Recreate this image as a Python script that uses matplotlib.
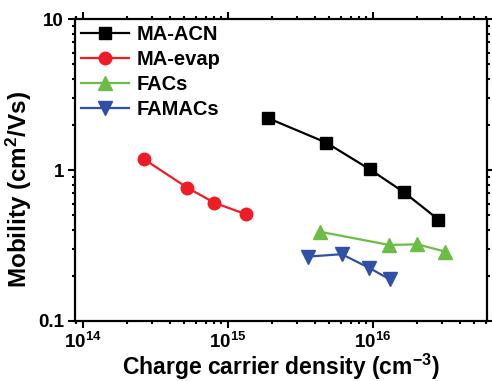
import math
import matplotlib
matplotlib.use("Agg")
import matplotlib.pyplot as plt
from matplotlib.ticker import LogLocator, FuncFormatter, NullFormatter

plt.rcParams['font.family'] = ['Liberation Sans', 'DejaVu Sans']
plt.rcParams['font.weight'] = 'bold'
plt.rcParams['mathtext.fontset'] = 'custom'
plt.rcParams['mathtext.rm'] = 'Liberation Sans:bold'
plt.rcParams['mathtext.it'] = 'Liberation Sans:bold'
plt.rcParams['mathtext.bf'] = 'Liberation Sans:bold'

# data
acn_x = [1.90e15, 4.74e15, 9.5e15, 1.64e16, 2.82e16]
acn_y = [2.20, 1.52, 1.01, 0.71, 0.47]

evap_x = [2.63e14, 5.24e14, 8.05e14, 1.33e15]
evap_y = [1.18, 0.763, 0.607, 0.509]

facs_x = [4.31e15, 1.29e16, 2.02e16, 3.15e16]
facs_y = [0.390, 0.319, 0.322, 0.288]

famacs_x = [3.55e15, 6.08e15, 9.38e15, 1.30e16]
famacs_y = [0.267, 0.277, 0.225, 0.189]

fig = plt.figure(figsize=(4.92, 3.81), dpi=100)
ax = fig.add_axes([0.1524, 0.1575, 0.8374, 0.7925])

ax.plot(acn_x, acn_y, '-s', color='black', lw=1.6, ms=8.5, label='MA-ACN')
ax.plot(evap_x, evap_y, '-o', color='#ee1c24', lw=1.6, ms=9, label='MA-evap')
ax.plot(facs_x, facs_y, '-^', color='#6cbd45', lw=1.6, ms=10, label='FACs')
ax.plot(famacs_x, famacs_y, '-v', color='#3050a8', lw=1.6, ms=10, label='FAMACs')

ax.set_xscale('log')
ax.set_yscale('log')
ax.set_xlim(8.8e13, 6.1e16)
ax.set_ylim(0.1, 10)

ax.xaxis.set_major_locator(LogLocator(base=10, numticks=10))
ax.xaxis.set_minor_locator(LogLocator(base=10, subs=range(2, 10), numticks=20))
ax.yaxis.set_minor_locator(LogLocator(base=10, subs=range(2, 10), numticks=20))
ax.xaxis.set_major_formatter(FuncFormatter(lambda v, p: r'$10^{%d}$' % round(math.log10(v))))
ax.yaxis.set_major_formatter(FuncFormatter(lambda v, p: '%g' % v))
ax.xaxis.set_minor_formatter(NullFormatter())
ax.yaxis.set_minor_formatter(NullFormatter())

ax.tick_params(which='both', direction='out', top=True, right=True, width=1.5,
               labelsize=13.5)
ax.tick_params(which='major', length=5, pad=3)
ax.tick_params(which='minor', length=2.5)
for s in ax.spines.values():
    s.set_linewidth(1.6)

ax.set_xlabel(r'Charge carrier density (cm$^{-3}$)', fontsize=16.5, fontweight='bold', labelpad=0)
ax.set_ylabel('Mobility (cm$^{2}$/Vs)', fontsize=17.5, fontweight='bold')
ax.yaxis.set_label_coords(-0.10, 0.434)

ax.legend(loc='upper left', frameon=False, prop={'weight': 'bold', 'size': 14.5},
          handlelength=2.4, handletextpad=0.35, labelspacing=0.3,
          borderaxespad=0.15, borderpad=0.15)

fig.savefig('out.png', dpi=100)
